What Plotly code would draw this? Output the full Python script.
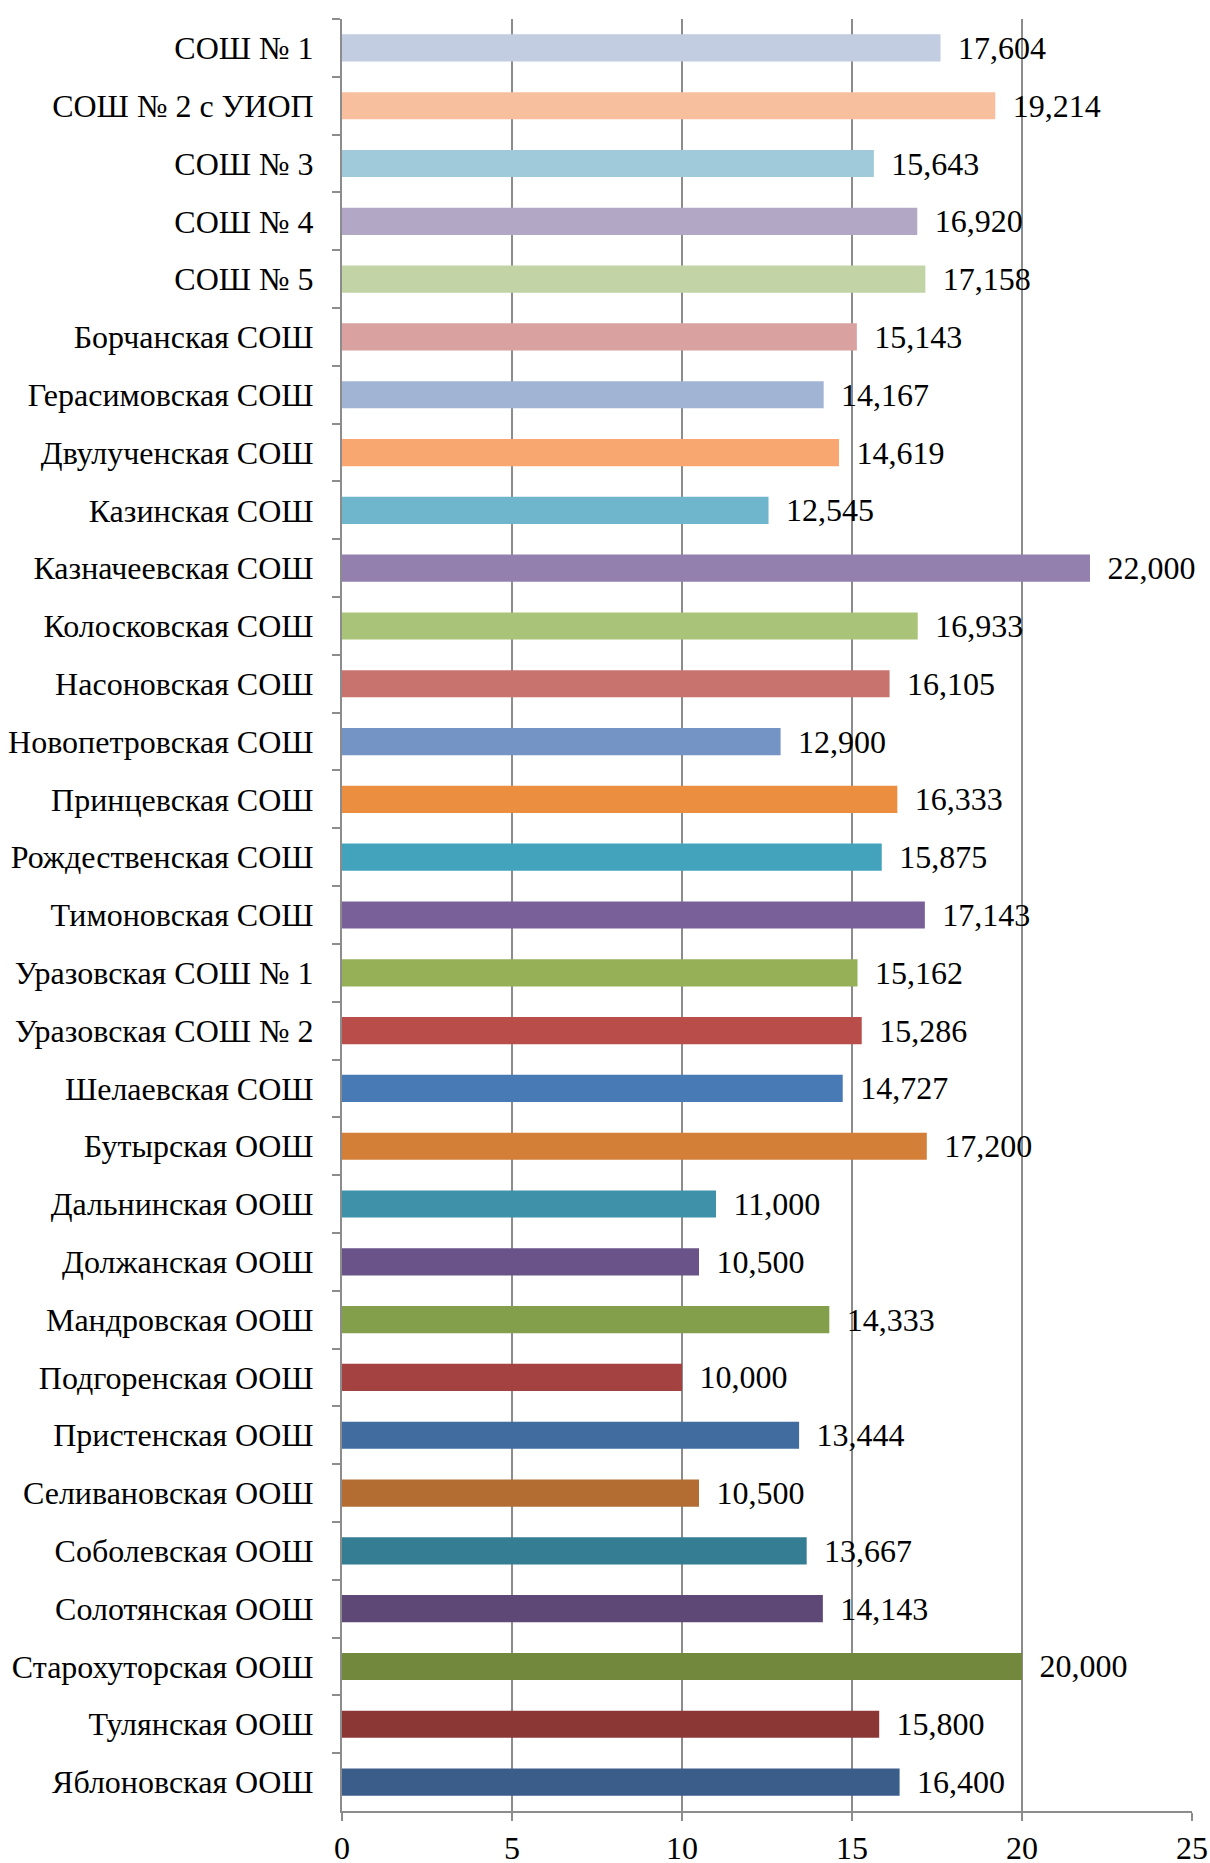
import plotly.graph_objects as go

categories = [
    "СОШ № 1", "СОШ № 2 с УИОП", "СОШ № 3", "СОШ № 4", "СОШ № 5",
    "Борчанская СОШ", "Герасимовская СОШ", "Двулученская СОШ", "Казинская СОШ",
    "Казначеевская СОШ", "Колосковская СОШ", "Насоновская СОШ", "Новопетровская СОШ",
    "Принцевская СОШ", "Рождественская СОШ", "Тимоновская СОШ", "Уразовская СОШ № 1",
    "Уразовская СОШ № 2", "Шелаевская СОШ", "Бутырская ООШ", "Дальнинская ООШ",
    "Должанская ООШ", "Мандровская ООШ", "Подгоренская ООШ", "Пристенская ООШ",
    "Селивановская ООШ", "Соболевская ООШ", "Солотянская ООШ", "Старохуторская ООШ",
    "Тулянская ООШ", "Яблоновская ООШ",
]

values = [
    17.604, 19.214, 15.643, 16.920, 17.158,
    15.143, 14.167, 14.619, 12.545,
    22.000, 16.933, 16.105, 12.900,
    16.333, 15.875, 17.143, 15.162,
    15.286, 14.727, 17.200, 11.000,
    10.500, 14.333, 10.000, 13.444,
    10.500, 13.667, 14.143, 20.000,
    15.800, 16.400,
]

colors = [
    "#C2CDE2", "#F8BF9E", "#A0C9DA", "#B2A8C6", "#C2D3A5",
    "#D9A2A1", "#A1B4D4", "#F7A76F", "#6FB5CB",
    "#9380AE", "#A9C378", "#C9736F", "#7394C5",
    "#EB8E40", "#43A3BD", "#7A6098", "#95B056",
    "#B84D4A", "#487AB5", "#D37F38", "#3F91AA",
    "#6A5388", "#849F4B", "#A34240", "#416C9F",
    "#B36D32", "#357D92", "#5E4876", "#71883D",
    "#8A3736", "#3A5D8A",
]

x_ticks = [0, 5, 10, 15, 20, 25]

FONT = "Liberation Serif, Times New Roman, serif"
GRID = "#8C8C8C"

fig = go.Figure(
    go.Bar(
        x=values,
        y=categories,
        orientation="h",
        marker=dict(color=colors, line=dict(width=0)),
        width=0.47,
        texttemplate="\u00a0\u2009%{x:.3f}",
        textposition="outside",
        constraintext="none",
        cliponaxis=False,
        textfont=dict(family=FONT, size=32, color="black"),
        hoverinfo="skip",
    )
)

fig.update_layout(
    width=1210,
    height=1863,
    margin=dict(l=342, r=18, t=19, b=52, autoexpand=False),
    paper_bgcolor="white",
    plot_bgcolor="white",
    separators=", ",
    showlegend=False,
    font=dict(family=FONT, size=32, color="black"),
    xaxis=dict(
        range=[0, 25],
        tickvals=x_ticks,
        ticktext=[str(v) for v in x_ticks],
        showgrid=True,
        gridcolor=GRID,
        gridwidth=2,
        zeroline=False,
        showline=True,
        linecolor=GRID,
        linewidth=2,
        ticks="outside",
        ticklen=8,
        tickwidth=2,
        tickcolor=GRID,
        tickfont=dict(family=FONT, size=32, color="black"),
        automargin=False,
        fixedrange=True,
    ),
    yaxis=dict(
        categoryorder="array",
        categoryarray=categories,
        autorange="reversed",
        showgrid=False,
        zeroline=False,
        showline=True,
        linecolor=GRID,
        linewidth=2,
        ticks="outside",
        tickson="boundaries",
        ticklen=8,
        tickwidth=2,
        tickcolor=GRID,
        ticklabelstandoff=20,
        tickfont=dict(family=FONT, size=32, color="black"),
        automargin=False,
        fixedrange=True,
    ),
)

fig.write_html(
    "out.html",
    config={"displayModeBar": False, "staticPlot": True},
    post_script="document.body.style.margin='0';document.body.style.overflow='hidden';",
)
